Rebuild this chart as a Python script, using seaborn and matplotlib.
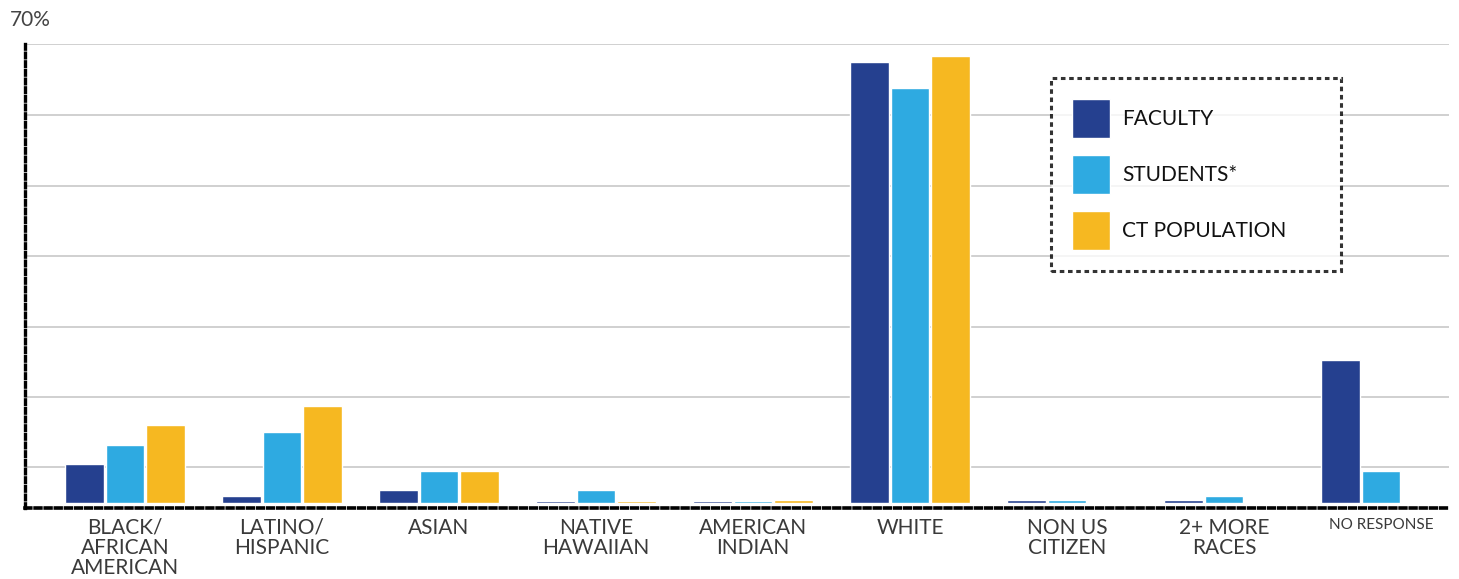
import numpy as np
import pandas as pd
import matplotlib
matplotlib.use("Agg")
import matplotlib.pyplot as plt
import seaborn as sns

# categories and shares (%)
groups = ["BLACK/\nAFRICAN\nAMERICAN", "LATINO/\nHISPANIC", "ASIAN", "NATIVE\nHAWAIIAN",
          "AMERICAN\nINDIAN", "WHITE", "NON US\nCITIZEN", "2+ MORE\nRACES", "NO RESPONSE"]
faculty = [5.9, 1.1, 2.0, 0.25, 0.25, 67.3, 0.4, 0.4, 21.8]
students = [8.8, 10.8, 4.9, 2.0, 0.25, 63.3, 0.4, 1.1, 4.9]
ct_population = [11.9, 14.8, 4.9, 0.3, 0.45, 68.2, np.nan, np.nan, np.nan]
series = ["FACULTY", "STUDENTS*", "CT POPULATION"]
colors = ["#25408F", "#2EAAE1", "#F6B821"]
grid_vals = [70, 59.2, 48.4, 37.6, 26.9, 16.2, 5.5]

df = pd.DataFrame({
    "group": groups * 3,
    "series": [s for s in series for _ in groups],
    "pct": faculty + students + ct_population,
})

sns.set_style("white")
plt.rcParams["font.family"] = ["Lato", "DejaVu Sans"]

fig = plt.figure(figsize=(14.59, 5.79), dpi=100)
ax = fig.add_axes([25 / 1459, 71 / 579, 1424 / 1459, 464 / 579])

sns.barplot(data=df, x="group", y="pct", hue="series", order=groups, hue_order=series,
            palette=colors, saturation=1, width=0.78, gap=0.05, errorbar=None, ax=ax)

ax.set_xlim(-0.637, 8.433)
ax.set_ylim(-0.76, 70)
ax.set_xlabel("")
ax.set_ylabel("")

# grid
ax.set_yticks(grid_vals)
ax.set_yticklabels([])
ax.tick_params(axis="y", which="major", length=0)
ax.yaxis.grid(True, color="#c8c8c8", lw=1.2)
ax.set_axisbelow(True)

# top cap on the y axis
ax.set_yticks([70], minor=True)
ax.tick_params(axis="y", which="minor", length=11, width=3, direction="inout", color="black")

# dashed spines
for side in ["top", "right"]:
    ax.spines[side].set_visible(False)
ax.spines["left"].set_linestyle((0, (1.4, 1.2)))
ax.spines["left"].set_linewidth(2.4)
ax.spines["left"].set_color("black")
ax.spines["bottom"].set_linestyle((0, (1.6, 1.2)))
ax.spines["bottom"].set_linewidth(2.6)
ax.spines["bottom"].set_color("black")
ax.spines["left"].set_bounds(-0.76, 70)

ax.tick_params(axis="x", length=0, pad=7)
ax.set_xticks(range(len(groups)))
ax.set_xticklabels(groups, fontsize=15, color="#3a3a3a", linespacing=1.0)
ax.get_xticklabels()[-1].set_fontsize(11)

ax.text(-0.0105, 1.03, "70%", transform=ax.transAxes, fontsize=15,
        color="#444444", ha="left", va="bottom")

# legend box: x 1051..1341, top at y=78 (pixels)
leg = ax.legend(loc="upper left",
                bbox_to_anchor=((1051 - 25) / 1424, (508 - 78) / 464, 290 / 1424, 0.0),
                mode="expand", fontsize=15, frameon=True, fancybox=False,
                handlelength=1.83, handleheight=2.5, labelspacing=0.82, borderpad=1.0,
                borderaxespad=0, handletextpad=0.6, title=None)
frame = leg.get_frame()
frame.set_edgecolor("black")
frame.set_linewidth(2.2)
frame.set_linestyle((0, (1.5, 1.2)))
for t in leg.get_texts():
    t.set_color("#111111")

fig.savefig("out.png", dpi=100)
